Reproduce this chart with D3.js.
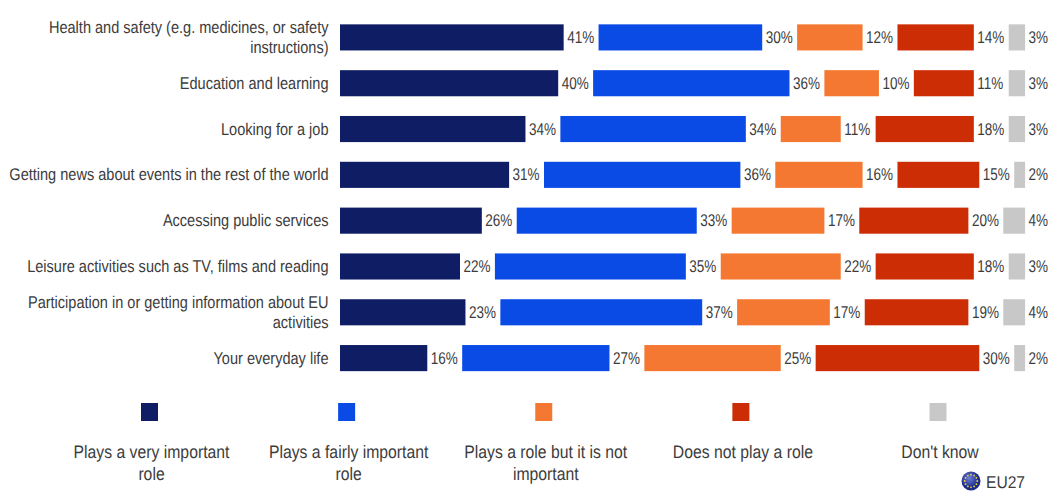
<!DOCTYPE html>
<html><head><meta charset="utf-8">
<script src="https://cdn.jsdelivr.net/npm/d3@7"></script>
<style>html,body{margin:0;padding:0;background:#fff;overflow:hidden}svg{display:block}
text{font-family:"Liberation Sans",Arial,sans-serif;fill:#3c3c3c;text-rendering:geometricPrecision}</style>
</head><body><div id="c"></div>
<script>
const categories = [
  ["Health and safety (e.g. medicines, or safety","instructions)"],
  ["Education and learning"],
  ["Looking for a job"],
  ["Getting news about events in the rest of the world"],
  ["Accessing public services"],
  ["Leisure activities such as TV, films and reading"],
  ["Participation in or getting information about EU","activities"],
  ["Your everyday life"]
];
const seriesNames = [
  ["Plays a very important","role"],
  ["Plays a fairly important","role"],
  ["Plays a role but it is not","important"],
  ["Does not play a role"],
  ["Don't know"]
];
const veryImportant = [41,40,34,31,26,22,23,16];
const fairlyImportant = [30,36,34,36,33,35,37,27];
const notImportant = [12,10,11,16,17,22,17,25];
const noRole = [14,11,18,15,20,18,19,30];
const dontKnow = [3,3,3,2,4,3,4,2];
const colors = ["#0f1e64","#0a4be6","#f57832","#cd2d05","#c8c8c8"];
const series = [veryImportant,fairlyImportant,notImportant,noRole,dontKnow];

const W=1051,H=491;
const svg=d3.select("#c").append("svg").attr("width",W).attr("height",H);
const x=d3.scaleLinear().domain([0,100]).range([340,885.5]);
const gap=34.9;
const y=d3.scaleBand().domain(d3.range(categories.length)).range([14.5,381]).paddingInner(0.43).paddingOuter(0.215);
const squeezed=(sel,px,py,anchor,size,sx)=>sel.attr("text-anchor",anchor).attr("font-size",size)
  .attr("transform",`translate(${px},${py}) scale(${sx},1)`);

categories.forEach((lines,i)=>{
  const cy=y(i)+y.bandwidth()/2;
  lines.forEach((l,k)=>{
    const py=cy+5.5+(k-(lines.length-1)/2)*20.5;
    svg.append("text").text(l).call(squeezed,328.5,py,"end",17,0.855);
  });
  let cum=0;
  series.forEach((s,j)=>{
    const x0=x(cum)+j*gap, x1=x(cum+s[i])+j*gap;
    svg.append("rect").attr("x",x0).attr("y",y(i)).attr("width",x1-x0).attr("height",y.bandwidth())
      .attr("fill",colors[j]);
    svg.append("text").text(s[i]+"%").call(squeezed,x1+3.5,cy+5.5,"start",17,0.794);
    cum+=s[i];
  });
});

const legendX=d3.scalePoint().domain(d3.range(5)).range([149.5,938]);
seriesNames.forEach((lines,j)=>{
  const lx=legendX(j);
  svg.append("rect").attr("x",lx-8.5).attr("y",403).attr("width",17).attr("height",18).attr("fill",colors[j]);
  lines.forEach((l,k)=>{
    svg.append("text").text(l).call(squeezed,lx+2,458+k*22,"middle",18,0.875);
  });
});

const grad=svg.append("defs").append("radialGradient").attr("id","eu").attr("cx","40%").attr("cy","35%");
grad.append("stop").attr("offset","0%").attr("stop-color","#6f7fd6");
grad.append("stop").attr("offset","100%").attr("stop-color","#1b2a86");
svg.append("circle").attr("cx",971).attr("cy",481).attr("r",9.5).attr("fill","url(#eu)");
d3.range(12).forEach(k=>{
  const a=k/12*2*Math.PI;
  svg.append("circle").attr("cx",971+6.3*Math.cos(a)).attr("cy",481+6.3*Math.sin(a)).attr("r",0.9).attr("fill","#e8d24a");
});
svg.append("text").text("EU27").call(squeezed,986,488,"start",17,0.918);
</script></body></html>
